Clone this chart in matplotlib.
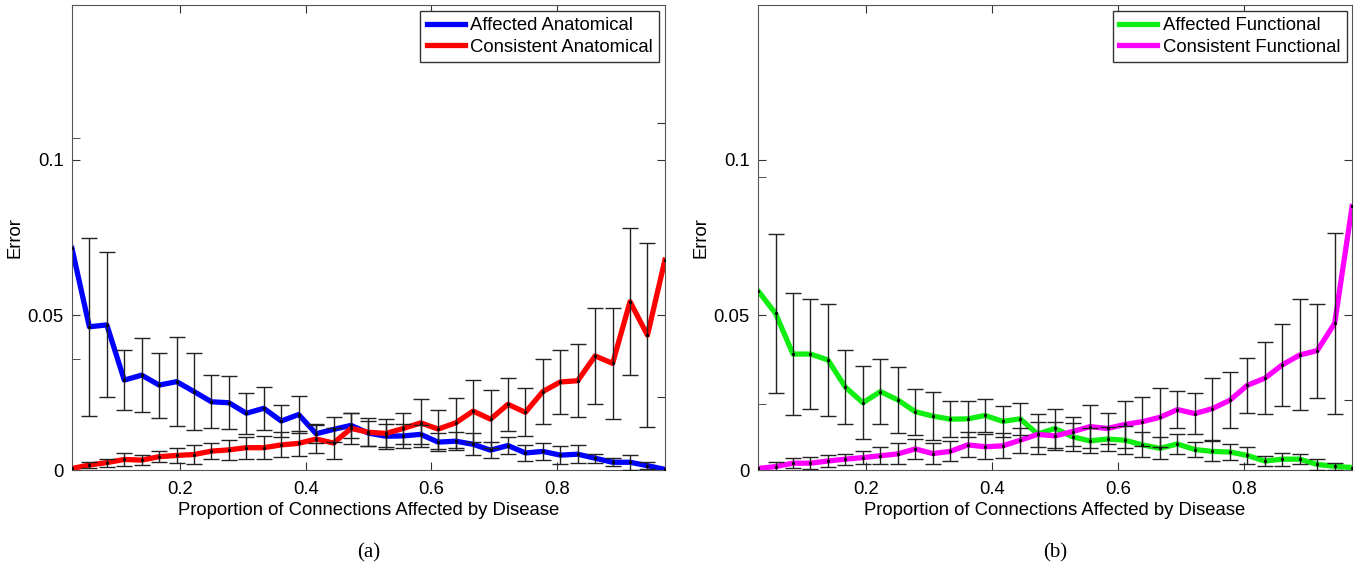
import matplotlib.pyplot as plt
import numpy as np
from matplotlib.ticker import FixedLocator, NullFormatter

plt.rcParams['font.family'] = ['Liberation Sans', 'DejaVu Sans']

# proportion of connections affected: k/36, k = 1..35
prop = np.arange(1, 36) / 36.0

# panel (a) - anatomical
affAnat = [0.0715, 0.0462, 0.0468, 0.0290, 0.0306, 0.0274, 0.0285, 0.0253, 0.0220, 0.0217,
           0.0183, 0.0199, 0.0158, 0.0179, 0.0117, 0.0131, 0.0144, 0.0119, 0.0109, 0.0110,
           0.0115, 0.0090, 0.0093, 0.0083, 0.0064, 0.0079, 0.0055, 0.0060, 0.0048, 0.0051,
           0.0038, 0.0025, 0.0025, 0.0014, 0.0002]
affAnatErr = [np.nan, 0.0287, 0.0234, 0.0097, 0.0120, 0.0105, 0.0143, 0.0124, 0.0086, 0.0086,
              0.0066, 0.0070, 0.0052, 0.0060, 0.0030, 0.0040, 0.0040, 0.0040, 0.0040, 0.0040,
              0.0030, 0.0030, 0.0030, 0.0035, 0.0026, 0.0028, 0.0026, 0.0027, 0.0028, 0.0029,
              0.0015, 0.0013, 0.0024, 0.0012, np.nan]
consAnat = [0.0005, 0.0016, 0.0024, 0.0034, 0.0032, 0.0043, 0.0047, 0.0050, 0.0061, 0.0065,
            0.0072, 0.0072, 0.0081, 0.0086, 0.0100, 0.0087, 0.0134, 0.0122, 0.0118, 0.0134,
            0.0152, 0.0132, 0.0152, 0.0190, 0.0164, 0.0212, 0.0186, 0.0253, 0.0284, 0.0288,
            0.0368, 0.0344, 0.0543, 0.0435, 0.0677]
consAnatErr = [np.nan, 0.0011, 0.0013, 0.0020, 0.0015, 0.0018, 0.0025, 0.0030, 0.0027, 0.0032,
               0.0035, 0.0037, 0.0040, 0.0040, 0.0045, 0.0050, 0.0050, 0.0045, 0.0045, 0.0050,
               0.0078, 0.0063, 0.0080, 0.0100, 0.0094, 0.0086, 0.0077, 0.0104, 0.0102, 0.0117,
               0.0156, 0.0180, 0.0237, 0.0297, np.nan]

# panel (b) - functional
affFunc = [0.0578, 0.0505, 0.0374, 0.0374, 0.0355, 0.0267, 0.0217, 0.0253, 0.0226, 0.0188,
           0.0174, 0.0164, 0.0165, 0.0176, 0.0157, 0.0165, 0.0116, 0.0134, 0.0107, 0.0094,
           0.0100, 0.0096, 0.0081, 0.0070, 0.0084, 0.0066, 0.0060, 0.0058, 0.0047, 0.0029,
           0.0035, 0.0035, 0.0018, 0.0012, 0.0008]
affFuncErr = [np.nan, 0.0256, 0.0196, 0.0176, 0.0180, 0.0119, 0.0117, 0.0104, 0.0106, 0.0074,
              0.0078, 0.0058, 0.0058, 0.0052, 0.0050, 0.0051, 0.0065, 0.0063, 0.0045, 0.0040,
              0.0040, 0.0045, 0.0040, 0.0035, 0.0031, 0.0024, 0.0032, 0.0025, 0.0028, 0.0016,
              0.0021, 0.0017, 0.0019, 0.0011, np.nan]
consFunc = [0.0005, 0.0011, 0.0022, 0.0022, 0.0029, 0.0035, 0.0040, 0.0046, 0.0052, 0.0068,
            0.0053, 0.0060, 0.0081, 0.0075, 0.0078, 0.0096, 0.0115, 0.0110, 0.0124, 0.0140,
            0.0134, 0.0147, 0.0156, 0.0170, 0.0195, 0.0182, 0.0198, 0.0225, 0.0273, 0.0296,
            0.0339, 0.0371, 0.0385, 0.0473, 0.0850]
consFuncErr = [np.nan, 0.0014, 0.0017, 0.0019, 0.0019, 0.0018, 0.0020, 0.0028, 0.0034, 0.0031,
               0.0033, 0.0032, 0.0040, 0.0040, 0.0040, 0.0040, 0.0040, 0.0045, 0.0047, 0.0070,
               0.0051, 0.0075, 0.0079, 0.0096, 0.0060, 0.0065, 0.0100, 0.0090, 0.0088, 0.0116,
               0.0132, 0.0179, 0.0152, 0.0292, np.nan]

xTicks = [0.2, 0.4, 0.6, 0.8]
xTickLabels = ['0.2', '0.4', '0.6', '0.8']
yTicks = [0, 0.05, 0.1]
yTickLabels = ['0', '0.05', '0.1']
xLabel = 'Proportion of Connections Affected by Disease'
fs = 13.3

fig = plt.figure(figsize=(13.6, 5.72), dpi=100)
axA = fig.add_axes([0.0529, 0.1783, 0.436, 0.813])
axB = fig.add_axes([0.5574, 0.1783, 0.4368, 0.813])

panels = [
    (axA, affAnat, affAnatErr, consAnat, consAnatErr, 'blue', 'red',
     'Affected Anatomical', 'Consistent Anatomical', '(a)',
     [0.107, 0.0358], [0.112, 0.0236]),
    (axB, affFunc, affFuncErr, consFunc, consFuncErr, '#11ee11', 'magenta',
     'Affected Functional', 'Consistent Functional', '(b)',
     [0.0945, 0.0213], [0.0226]),
]

for ax, aff, affErr, cons, consErr, c1, c2, l1, l2, tag, extraL, extraR in panels:
    ax.plot(prop, aff, color=c1, lw=3.8, label=l1, solid_joinstyle='round')
    ax.plot(prop, cons, color=c2, lw=3.8, label=l2, solid_joinstyle='round')
    for vals, errs in [(aff, affErr), (cons, consErr)]:
        ax.errorbar(prop, vals, yerr=errs, fmt='.', color='black', ms=2.5,
                    ecolor='#222222', elinewidth=1.0, capsize=6, capthick=1.0, zorder=4)
    ax.set_xlim(prop[0], prop[-1])
    ax.set_ylim(0, 0.15)
    ax.set_xticks(xTicks)
    ax.set_xticklabels(xTickLabels)
    ax.set_yticks(yTicks)
    ax.set_yticklabels(yTickLabels)
    ax.yaxis.set_minor_locator(FixedLocator(extraL))
    ax.tick_params(which='major', direction='in', top=True, right=True, length=6,
                   labelsize=fs, color='#333333')
    ax.tick_params(axis='x', pad=8)
    ax.tick_params(axis='y', pad=6)
    ax.tick_params(which='minor', direction='in', left=True, right=False, length=6,
                   color='#333333')
    sec = ax.secondary_yaxis('right')
    sec.set_yticks(extraR)
    sec.yaxis.set_major_formatter(NullFormatter())
    sec.tick_params(direction='in', length=6, color='#333333')
    sec.spines['right'].set_visible(False)
    for s in ax.spines.values():
        s.set_color('#555555')
    ax.set_xlabel(xLabel, fontsize=fs, labelpad=3)
    ax.set_ylabel('Error', fontsize=fs, labelpad=3)
    leg = ax.legend(loc='upper right', fontsize=fs, fancybox=False, framealpha=1,
                    edgecolor='#333333', handlelength=2.05, handletextpad=0.3,
                    borderpad=0.35, labelspacing=0.25, borderaxespad=0.3)
    leg.get_frame().set_linewidth(1.0)
    ax.text(0.5, -0.178, tag, transform=ax.transAxes, ha='center', va='center',
            fontsize=15, family='Liberation Serif')

fig.savefig('out.png', dpi=100)
